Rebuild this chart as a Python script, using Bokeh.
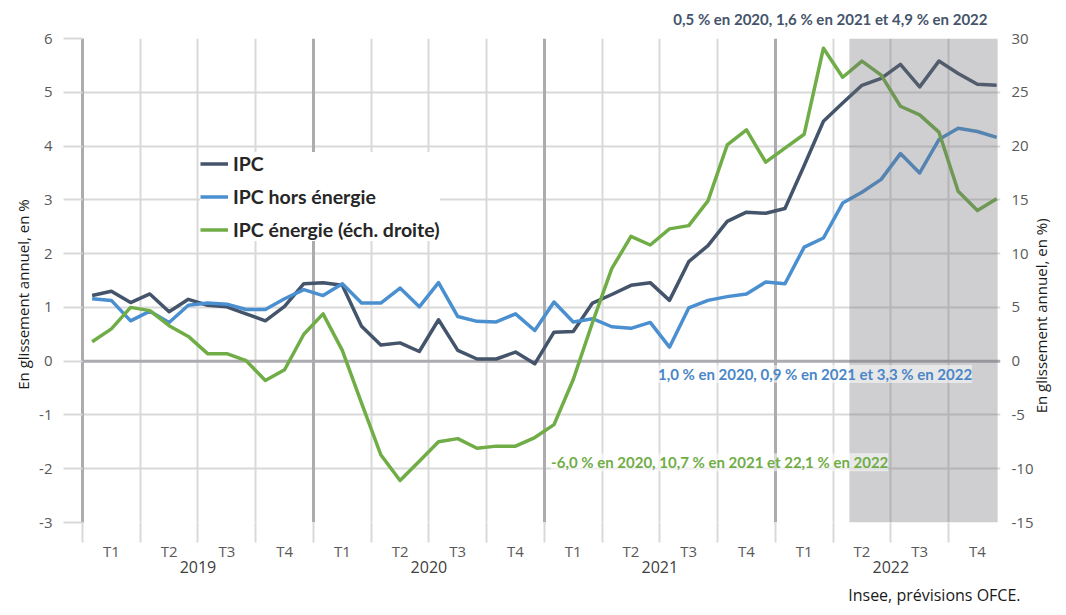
import math
import numpy as np
from bokeh.plotting import figure
from bokeh.models import (Range1d, LinearAxis, FixedTicker, Grid, Span, Label,
                          Legend, LegendItem, Title)
from bokeh.embed import file_html
from bokeh.resources import INLINE

# ---------------- data ----------------
years = ["2019", "2020", "2021", "2022"]
quarters = ["T1", "T2", "T3", "T4"]

ipc = [1.22, 1.30, 1.09, 1.25, 0.92, 1.15, 1.04, 1.01, 0.88, 0.75, 1.02, 1.44,
       1.46, 1.41, 0.65, 0.30, 0.34, 0.18, 0.77, 0.20, 0.04, 0.04, 0.17, -0.05,
       0.54, 0.55, 1.08, 1.24, 1.41, 1.46, 1.13, 1.85, 2.15, 2.60, 2.77, 2.75,
       2.84, 3.64, 4.46, 4.80, 5.13, 5.26, 5.52, 5.10, 5.58, 5.35, 5.15, 5.13]

ipc_hors_energie = [1.16, 1.13, 0.75, 0.93, 0.72, 1.04, 1.08, 1.06, 0.96, 0.96, 1.16, 1.33,
                    1.22, 1.44, 1.08, 1.08, 1.36, 1.01, 1.46, 0.83, 0.74, 0.73, 0.88, 0.57,
                    1.10, 0.73, 0.79, 0.64, 0.61, 0.72, 0.26, 0.99, 1.13, 1.20, 1.25, 1.47,
                    1.44, 2.12, 2.29, 2.94, 3.14, 3.38, 3.86, 3.50, 4.12, 4.33, 4.27, 4.16]

ipc_energie = [1.8, 3.0, 5.0, 4.7, 3.3, 2.3, 0.7, 0.7, 0.05, -1.8, -0.8, 2.5,
               4.4, 1.0, -3.9, -8.7, -11.1, -9.3, -7.5, -7.2, -8.1, -7.9, -7.9, -7.1,
               -5.9, -1.7, 3.6, 8.6, 11.6, 10.8, 12.3, 12.6, 14.9, 20.1, 21.5, 18.5,
               19.8, 21.1, 29.1, 26.4, 27.9, 26.6, 23.7, 22.9, 21.3, 15.8, 14.0, 15.1]

left_ticks = [-3, -2, -1, 0, 1, 2, 3, 4, 5, 6]
right_ticks = [-15, -10, -5, 0, 5, 10, 15, 20, 25, 30]

label_ipc = "0,5 % en 2020, 1,6 % en 2021 et 4,9 % en 2022"
label_hors = "1,0 % en 2020, 0,9 % en 2021 et 3,3 % en 2022"
label_energie = "-6,0 % en 2020, 10,7 % en 2021 et 22,1 % en 2022"
source_text = "Insee, prévisions OFCE."
axis_title_left = "En glissement annuel, en %"
axis_title_right = "En glissement annuel, en %)"

months = [f"{y}-{m:02d}" for y in years for m in range(1, 13)]
forecast_from = "2022-04"

# ---------------- colours / fonts ----------------
C_IPC = "#44546A"
C_HORS = "#4A8FD0"
C_ENER = "#70AD47"
GRID = "#D9D9D9"
YEARLINE = "#ABABB0"
TICKTXT = "#595959"

n = len(months)
x = np.arange(n) + 0.5
x_end = n - 0.3

p = figure(width=1066, height=615, output_backend="svg", toolbar_location=None,
           x_range=Range1d(0, x_end), y_range=Range1d(left_ticks[0], left_ticks[-1]),
           x_axis_type=None,
           min_border_left=82, min_border_right=66, min_border_top=38, min_border_bottom=93,
           outline_line_color=None, background_fill_color="white")

p.extra_y_ranges = {"energie": Range1d(right_ticks[0], right_ticks[-1])}

# ---- left axis
ya = p.yaxis[0]
ya.ticker = FixedTicker(ticks=left_ticks, minor_ticks=[])
ya.major_label_overrides = {t: str(t) for t in left_ticks}
ya.axis_line_color = YEARLINE
ya.axis_line_width = 3
ya.major_tick_out = 19
ya.major_tick_in = 0
ya.major_tick_line_color = GRID
ya.major_tick_line_width = 2
ya.minor_tick_line_color = None
ya.minor_tick_out = 0
ya.major_label_standoff = 11
ya.major_label_text_font = "Open Sans"
ya.major_label_text_font_size = "15px"
ya.major_label_text_color = TICKTXT

p.ygrid.ticker = FixedTicker(ticks=[t for t in left_ticks if t != 0])
p.ygrid.grid_line_color = GRID
p.ygrid.grid_line_width = 2

# ---- axis titles, read from bottom to top (drawn as rotated tick labels)
left_title_end = 3.01      # top end of the left title (left scale)
right_title_start = -0.97  # bottom end of the right title (left scale)
lt = LinearAxis(ticker=FixedTicker(ticks=[left_title_end], minor_ticks=[]),
                major_label_overrides={left_title_end: axis_title_left},
                major_label_orientation=math.pi / 2,
                axis_line_color=None, major_tick_line_color=None, minor_tick_line_color=None,
                major_tick_out=0, major_tick_in=0, minor_tick_out=0, minor_tick_in=0,
                major_label_standoff=13, major_label_text_font="Open Sans",
                major_label_text_font_size="15px", major_label_text_color="#1a1a1a")
p.add_layout(lt, "left")

# ---- right axis (energy scale)
ra = LinearAxis(y_range_name="energie", ticker=FixedTicker(ticks=right_ticks, minor_ticks=[]),
                major_label_overrides={t: str(t) for t in right_ticks},
                axis_line_color=None, major_tick_line_color=None, minor_tick_line_color=None,
                major_tick_out=0, major_tick_in=0, minor_tick_out=0, minor_tick_in=0,
                major_label_standoff=11, major_label_text_font="Open Sans",
                major_label_text_font_size="15px", major_label_text_color=TICKTXT)
p.add_layout(ra, "right")

rt = LinearAxis(ticker=FixedTicker(ticks=[right_title_start], minor_ticks=[]),
                major_label_overrides={right_title_start: axis_title_right},
                major_label_orientation=math.pi / 2,
                axis_line_color=None, major_tick_line_color=None, minor_tick_line_color=None,
                major_tick_out=0, major_tick_in=0, minor_tick_out=0, minor_tick_in=0,
                major_label_standoff=5, major_label_text_font="Open Sans",
                major_label_text_font_size="15px", major_label_text_color="#1a1a1a")
p.add_layout(rt, "right")

# ---- vertical grid lines (quarters / years)
q_bounds = [3 * q for q in range(1, 4 * len(years)) if q % 4 != 0]
y_bounds = [12 * k for k in range(1, len(years))]
p.add_layout(Grid(dimension=0, ticker=FixedTicker(ticks=q_bounds),
                  grid_line_color=GRID, grid_line_width=2))
p.add_layout(Grid(dimension=0, ticker=FixedTicker(ticks=y_bounds),
                  grid_line_color=YEARLINE, grid_line_width=3))
p.add_layout(Span(location=0, dimension="width", line_color=YEARLINE, line_width=3,
                  level="underlay"))

# ---- bottom axes: quarters then years
q_centres = [3 * q + 1.5 for q in range(4 * len(years))]
qa = LinearAxis(ticker=FixedTicker(ticks=q_centres,
                                   minor_ticks=[3 * q for q in range(4 * len(years))]),
                major_label_overrides={c: quarters[i % 4] for i, c in enumerate(q_centres)},
                axis_line_color=None, major_tick_line_color=None,
                major_tick_out=0, major_tick_in=0,
                minor_tick_out=20, minor_tick_in=0, minor_tick_line_color=GRID,
                minor_tick_line_width=2,
                major_label_standoff=-2, major_label_text_font="Open Sans",
                major_label_text_font_size="15px", major_label_text_color=TICKTXT)
p.add_layout(qa, "below")

y_centres = [12 * k + 6 for k in range(len(years))]
yax = LinearAxis(ticker=FixedTicker(ticks=y_centres, minor_ticks=[]),
                 major_label_overrides={c: years[i] for i, c in enumerate(y_centres)},
                 axis_line_color=None, major_tick_line_color=None, minor_tick_line_color=None,
                 major_tick_out=0, major_tick_in=0, minor_tick_out=0, minor_tick_in=0,
                 major_label_standoff=-3,
                 major_label_text_font="Open Sans", major_label_text_font_size="16px",
                 major_label_text_color="#404040")
p.add_layout(yax, "below")

# ---- lines
r1 = p.line(x, ipc, line_color=C_IPC, line_width=3.5, line_join="round")
r2 = p.line(x, ipc_hors_energie, line_color=C_HORS, line_width=3.5, line_join="round")
r3 = p.line(x, ipc_energie, line_color=C_ENER, line_width=3.5, line_join="round",
            y_range_name="energie")

# ---- forecast shading (over the lines, semi transparent)
fs = months.index(forecast_from) + 0.5 + 0.35
p.quad(left=fs, right=n - 0.45, bottom=left_ticks[0], top=left_ticks[-1],
       fill_color="#6D6D72", fill_alpha=0.33, line_color=None)

# ---- legend
legend = Legend(items=[LegendItem(label="IPC", renderers=[r1]),
                       LegendItem(label="IPC hors énergie", renderers=[r2]),
                       LegendItem(label="IPC énergie (éch. droite)", renderers=[r3])],
                location=(118, 281), orientation="vertical",
                label_text_font="Lato", label_text_font_style="bold",
                label_text_font_size="19.5px", label_text_color="#262626",
                glyph_width=28, glyph_height=23, label_height=23, label_standoff=5,
                spacing=10, padding=6, margin=0, border_line_color=None,
                background_fill_color="white", background_fill_alpha=1.0)
p.add_layout(legend)

# ---- annotations
p.title.text = label_ipc
p.title.align = "right"
p.title.offset = 13
p.title.vertical_align = "top"
p.title.text_font = "Lato"
p.title.text_font_style = "bold"
p.title.text_font_size = "15px"
p.title.text_color = C_IPC
p.title.standoff = 18

p.add_layout(Label(x=29.9, y=-0.24, text=label_hors, text_font="Lato",
                   text_font_style="bold", text_font_size="15px", text_color="#4A86C8",
                   text_baseline="middle", text_align="left",
                   background_fill_color="white", background_fill_alpha=0.5))
p.add_layout(Label(x=24.35, y=-9.4, y_range_name="energie", text=label_energie,
                   text_font="Lato", text_font_style="bold", text_font_size="15px",
                   text_color=C_ENER, text_baseline="middle", text_align="left",
                   background_fill_color="white", background_fill_alpha=0.55))

src = Title(text=source_text, align="right", offset=-20, text_font="Open Sans",
            text_font_size="16px", text_font_style="normal", text_color="#1a1a1a",
            standoff=12)
p.add_layout(src, "below")

open("out.html", "w").write(file_html(p, INLINE))
